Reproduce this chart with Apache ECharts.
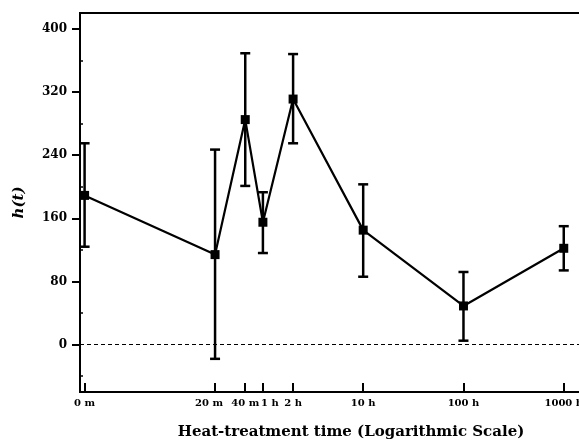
<!DOCTYPE html>
<html>
<head>
<meta charset="utf-8">
<script src="https://cdn.jsdelivr.net/npm/echarts@6/dist/echarts.min.js"></script>
<style>
  html, body { margin: 0; padding: 0; background: #fff; }
  #chart { width: 579px; height: 444px; }
</style>
</head>
<body>
<div id="chart"></div>
<script>
// Heat-treatment times (labels) and their position in minutes on the log axis
const timeLabels = ['0 m', '20 m', '40 m', '1 h', '2 h', '10 h', '100 h', '1000 h'];
const timeMinutes = [1, 20, 40, 60, 120, 600, 6000, 60000];

// h(t): mean with upper / lower error limits
const hMean  = [189, 114, 285, 155, 311, 145, 49, 122];
const hUpper = [255, 247, 369, 193, 368, 203, 92, 150];
const hLower = [124, -18, 201, 116, 255, 86, 5, 94];

// y-axis ticks
const yMajorTicks = [0, 80, 160, 240, 320, 400];
const yMinorTicks = [-40, 40, 120, 200, 280, 360];

const serif = '"DejaVu Serif", "Liberation Serif", serif';

function labelFor(v) {
  let best = 0, bestD = Infinity;
  timeMinutes.forEach((m, i) => {
    const d = Math.abs(Math.log10(m) - Math.log10(v));
    if (d < bestD) { bestD = d; best = i; }
  });
  const t = timeLabels[best];
  if (t === '20 m') return '{l|' + t + '}';
  if (t === '1 h') return '{r|' + t + '}';
  return t;
}

const chart = echarts.init(document.getElementById('chart'));
chart.setOption({
  backgroundColor: '#fff',
  animation: false,
  grid: {
    left: 80, top: 13, bottom: 52, right: -7,
    outerBoundsMode: 'none',
    containLabel: false,
    show: true, borderColor: '#000', borderWidth: 2, backgroundColor: 'transparent'
  },
  xAxis: {
    type: 'log',
    logBase: 10,
    min: 0.9,
    max: 100000,
    name: 'Heat-treatment time (Logarithmic Scale)',
    nameLocation: 'middle',
    nameGap: 33,
    nameTextStyle: { fontFamily: serif, fontWeight: 'bold', fontSize: 15, color: '#000', padding: [0, 0, 0, 36] },
    axisLine: { show: true, onZero: false, lineStyle: { color: '#000', width: 2 } },
    axisTick: { show: true, inside: true, length: 9, customValues: timeMinutes, lineStyle: { color: '#000', width: 2 } },
    minorTick: { show: false },
    splitLine: { show: false },
    axisLabel: {
      customValues: timeMinutes,
      margin: 6,
      fontFamily: serif, fontWeight: 'bold', fontSize: 10, color: '#000',
      formatter: labelFor,
      rich: {
        l: { fontFamily: serif, fontWeight: 'bold', fontSize: 10, color: '#000', padding: [0, 12, 0, 0] },
        r: { fontFamily: serif, fontWeight: 'bold', fontSize: 10, color: '#000', padding: [0, 0, 0, 14] }
      }
    }
  },
  yAxis: [{
    type: 'value',
    min: -60,
    max: 420,
    name: 'h(t)',
    nameLocation: 'middle',
    nameGap: 53,
    nameRotate: 90,
    nameTextStyle: { fontFamily: serif, fontWeight: 'bold', fontStyle: 'italic', fontSize: 15, color: '#000' },
    axisLine: { show: true, onZero: false, lineStyle: { color: '#000', width: 2 } },
    axisTick: { show: true, inside: false, length: 8, customValues: yMajorTicks, lineStyle: { color: '#000', width: 2 } },
    splitLine: { show: false },
    axisLabel: {
      customValues: yMajorTicks,
      margin: 13,
      fontFamily: serif, fontWeight: 'bold', fontSize: 12, color: '#000'
    }
  }, {
    type: 'value',
    min: -60,
    max: 420,
    position: 'left',
    axisLine: { show: false },
    axisTick: { show: true, inside: true, length: 3, customValues: yMinorTicks, lineStyle: { color: '#000', width: 1.5 } },
    axisLabel: { show: false },
    splitLine: { show: false }
  }],
  series: [{
    type: 'custom',
    name: 'error',
    data: timeMinutes.map((m, i) => [m, hLower[i], hUpper[i]]),
    encode: { x: 0, y: [1, 2] },
    z: 2,
    renderItem: function (params, api) {
      const x = api.value(0);
      const lo = api.coord([x, api.value(1)]);
      const hi = api.coord([x, api.value(2)]);
      const hw = 5;
      const style = { stroke: '#000', lineWidth: 2.5 };
      return {
        type: 'group',
        children: [
          { type: 'line', shape: { x1: lo[0], y1: lo[1], x2: hi[0], y2: hi[1] }, style: style },
          { type: 'line', shape: { x1: hi[0] - hw, y1: hi[1], x2: hi[0] + hw, y2: hi[1] }, style: style },
          { type: 'line', shape: { x1: lo[0] - hw, y1: lo[1], x2: lo[0] + hw, y2: lo[1] }, style: style }
        ]
      };
    }
  }, {
    type: 'line',
    name: 'h(t)',
    data: timeMinutes.map((m, i) => [m, hMean[i]]),
    symbol: 'rect',
    symbolSize: 9,
    z: 3,
    itemStyle: { color: '#000' },
    lineStyle: { color: '#000', width: 2.2 },
    markLine: {
      silent: true,
      symbol: ['none', 'none'],
      label: { show: false },
      lineStyle: { color: '#000', width: 1, type: [4, 3] },
      data: [{ yAxis: 0 }]
    }
  }]
});
</script>
</body>
</html>
